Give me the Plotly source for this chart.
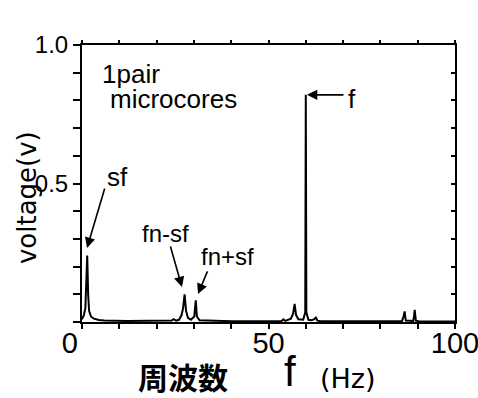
import plotly.graph_objects as go

# Frequency spectrum of the search-coil voltage (1 pair of microcores)
freq_hz = [0.0, 0.5, 0.9, 1.15, 1.4, 1.65, 1.9, 2.4, 3.2, 4.5, 6.0,
           12.0, 20.0, 24.0, 24.6, 25.2, 26.0, 26.7, 27.1, 27.5, 27.9,
           28.4, 29.2, 30.1, 30.5, 30.8, 31.5, 35.0, 40.0, 50.0, 53.5,
           54.0, 54.5, 56.0, 56.6, 57.0, 57.4, 58.0, 59.3, 59.85, 60.0,
           60.15, 60.7, 61.5, 62.3, 62.7, 63.1, 64.0, 70.0, 80.0, 85.8,
           86.2, 86.5, 86.8, 88.8, 89.0, 89.2, 89.5, 90.5, 100.0]
voltage_v = [0.010, 0.025, 0.050, 0.120, 0.240, 0.100, 0.040, 0.020,
             0.012, 0.007, 0.005, 0.004, 0.004, 0.005, 0.010, 0.005,
             0.008, 0.025, 0.050, 0.100, 0.040, 0.015, 0.008, 0.020,
             0.078, 0.020, 0.006, 0.004, 0.003, 0.003, 0.004, 0.010,
             0.004, 0.012, 0.030, 0.065, 0.025, 0.010, 0.008, 0.035,
             0.820, 0.035, 0.008, 0.006, 0.010, 0.018, 0.005, 0.003,
             0.003, 0.003, 0.004, 0.020, 0.038, 0.005, 0.004, 0.020,
             0.044, 0.005, 0.002, 0.002]

x_ticks = [0, 10, 20, 30, 40, 50, 60, 70, 80, 90, 100]
x_tick_text = ["0\u00a0\u00a0\u00a0", "", "", "", "", "50", "", "", "", "",
               "100"]
y_ticks = [0.0, 0.1, 0.2, 0.3, 0.4, 0.5, 0.6, 0.7, 0.8, 0.9, 1.0]
y_tick_text = ["", "", "", "", "", "0.5", "", "", "", "", "1.0"]

FONT = "Liberation Sans"
WIDE = "DejaVu Sans"
INK = "black"

fig = go.Figure()
fig.add_trace(go.Scatter(x=freq_hz, y=voltage_v, mode="lines",
                         line=dict(color=INK, width=2), showlegend=False,
                         hoverinfo="skip"))
# invisible trace that carries the mirrored frame axes
fig.add_trace(go.Scatter(x=[None], y=[None], xaxis="x2", yaxis="y2",
                         showlegend=False, hoverinfo="skip"))

axis_common = dict(showgrid=False, zeroline=False, showline=True,
                   linecolor=INK, linewidth=2, tickcolor=INK, tickwidth=1.5,
                   automargin=False)

fig.update_layout(
    width=478, height=398,
    margin=dict(l=82, r=23, t=45, b=76),
    paper_bgcolor="white", plot_bgcolor="white",
    font=dict(family=FONT, color=INK),
    xaxis=dict(range=[0, 100], tickmode="array", tickvals=x_ticks,
               ticktext=x_tick_text, ticks="outside", ticklen=5,
               ticklabeloverflow="allow", ticklabelstandoff=-11,
               tickfont=dict(size=29, family=FONT), **axis_common),
    yaxis=dict(range=[0, 1.0], tickmode="array", tickvals=y_ticks,
               ticktext=y_tick_text, ticks="outside", ticklen=7,
               tickfont=dict(size=24, family=FONT), **axis_common),
    xaxis2=dict(range=[0, 100], overlaying="x", side="top",
                tickmode="array", tickvals=x_ticks, showticklabels=False,
                ticks="outside", ticklen=3, **axis_common),
    yaxis2=dict(range=[0, 1.0], overlaying="y", side="right",
                tickmode="array", tickvals=y_ticks, showticklabels=False,
                ticks="inside", ticklen=4, **axis_common),
)

# arrows pointing at the spectral lines: (tail_x, tail_y, head_x, head_y)
arrows = [
    (6.2, 0.487, 1.34, 0.267),
    (23.6, 0.278, 26.8, 0.126),
    (33.8, 0.188, 31.1, 0.101),
    (70.5, 0.820, 60.3, 0.820),
]
for tx, ty, hx, hy in arrows:
    fig.add_annotation(x=hx, y=hy, ax=tx, ay=ty, xref="x", yref="y",
                       axref="x", ayref="y", text="", showarrow=True,
                       arrowhead=2, arrowsize=1.3, arrowwidth=1.6,
                       arrowcolor=INK)

labels = [
    ("sf", 9.4, 0.523, 26, "center"),
    ("fn-sf", 22.3, 0.321, 24, "center"),
    ("fn+sf", 38.9, 0.235, 24, "center"),
    ("f", 72.4, 0.805, 26, "center"),
    ("1pair", 4.8, 0.895, 26, "left"),
    ("microcores", 6.9, 0.805, 26, "left"),
]
for txt, x, y, size, anchor in labels:
    fig.add_annotation(x=x, y=y, xref="x", yref="y", text=txt,
                       showarrow=False, xanchor=anchor, yanchor="middle",
                       font=dict(size=size, family=FONT, color=INK))

# axis titles
titles = [
    ("voltage(v)", -0.147, 0.448, 26, WIDE, -90, "middle"),
    ("<b>周波数</b>", 0.271, -0.195, 30, "Noto Sans CJK JP", 0, "middle"),
    ("f", 0.558, -0.271, 42, FONT, 0, "bottom"),
    ("(Hz)", 0.713, -0.204, 27, WIDE, 0, "middle"),
]
for txt, x, y, size, family, angle, yanc in titles:
    fig.add_annotation(x=x, y=y, xref="paper", yref="paper", text=txt,
                       textangle=angle, showarrow=False,
                       xanchor="center", yanchor=yanc,
                       font=dict(size=size, family=family, color=INK))

fig.write_html("out.html")
